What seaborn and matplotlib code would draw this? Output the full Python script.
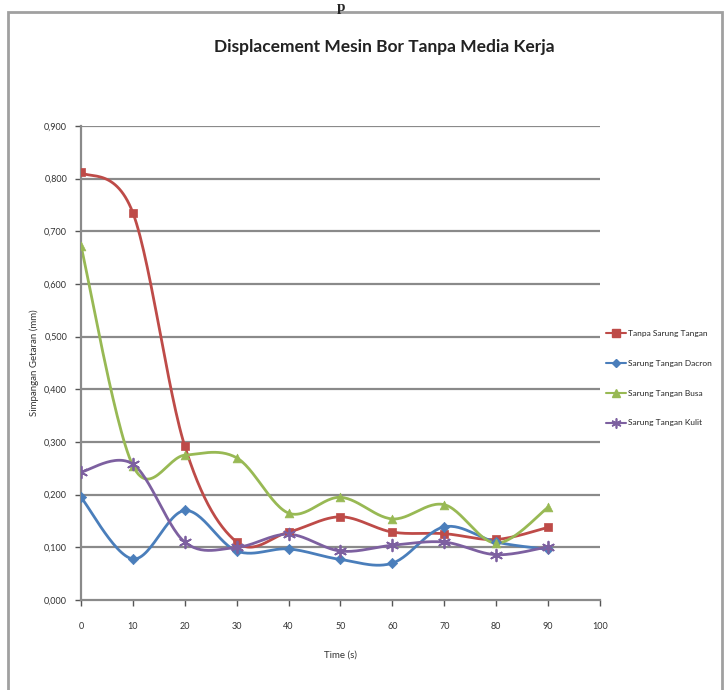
import numpy as np
import pandas as pd
import matplotlib
matplotlib.use("Agg")
import matplotlib.pyplot as plt
import seaborn as sns
from matplotlib.lines import Line2D
from matplotlib.patches import Rectangle

# data
time_s = [0, 10, 20, 30, 40, 50, 60, 70, 80, 90]
tanpa = [0.812, 0.735, 0.292, 0.110, 0.129, 0.158, 0.129, 0.126, 0.115, 0.138]
dacron = [0.195, 0.078, 0.170, 0.093, 0.097, 0.077, 0.070, 0.139, 0.110, 0.096]
busa = [0.672, 0.255, 0.275, 0.270, 0.165, 0.195, 0.154, 0.181, 0.108, 0.176]
kulit = [0.243, 0.258, 0.110, 0.100, 0.125, 0.093, 0.104, 0.110, 0.086, 0.101]

names = ["Tanpa Sarung Tangan", "Sarung Tangan Dacron", "Sarung Tangan Busa", "Sarung Tangan Kulit"]
series = [tanpa, dacron, busa, kulit]
colors = ["#BE4B48", "#4A7EBB", "#98B954", "#7D60A0"]
markers = ["s", "D", "^", (6, 2, 0)]  # last one = asterisk like excel
msizes = [6, 5, 6, 8]

sns.set_style("white")
plt.rcParams["font.family"] = ["Lato", "DejaVu Sans"]


def smooth(x, y, n=30):
    # excel-like smoothed line (catmull-rom through the points)
    x = np.asarray(x, float)
    y = np.asarray(y, float)
    px = np.concatenate([[x[0]], x, [x[-1]]])
    py = np.concatenate([[y[0]], y, [y[-1]]])
    xs, ys = [], []
    t = np.linspace(0, 1, n)
    for i in range(1, len(px) - 2):
        p0, p1, p2, p3 = px[i - 1], px[i], px[i + 1], px[i + 2]
        q0, q1, q2, q3 = py[i - 1], py[i], py[i + 1], py[i + 2]
        for a, b, c, d, out in ((p0, p1, p2, p3, xs), (q0, q1, q2, q3, ys)):
            out.extend(0.5 * (2 * b + (-a + c) * t + (2 * a - 5 * b + 4 * c - d) * t ** 2
                              + (-a + 3 * b - 3 * c + d) * t ** 3))
    return np.array(xs), np.array(ys)


rows = []
for name, vals in zip(names, series):
    sx, sy = smooth(time_s, vals)
    rows.append(pd.DataFrame({"t": sx, "v": sy, "seri": name}))
curves = pd.concat(rows, ignore_index=True)
points = pd.DataFrame({"t": time_s * 4,
                       "v": sum(series, []),
                       "seri": sum([[n] * len(time_s) for n in names], [])})

fig = plt.figure(figsize=(7.26, 6.9), dpi=100)
ax = fig.add_axes([0.1116, 0.1304, 0.7148, 0.687])

# grid
for g in np.arange(0.1, 0.91, 0.1):
    ax.axhline(g, color="#8a8a8a", lw=1.6, zorder=0)

pal = dict(zip(names, colors))
sns.lineplot(data=curves, x="t", y="v", hue="seri", estimator=None, sort=False,
             palette=pal, lw=2, legend=False, ax=ax, zorder=2)
for name, c, m, ms in zip(names, colors, markers, msizes):
    sub = points[points["seri"] == name]
    sns.scatterplot(data=sub, x="t", y="v", color=c, marker=m, s=ms ** 2 * 1.1,
                    edgecolor=c, linewidth=0.5 if not isinstance(m, tuple) else 1.3,
                    ax=ax, zorder=3, legend=False)

ax.set_xlim(0, 100)
ax.set_ylim(0, 0.9)
ax.set_xticks(range(0, 101, 10))
ax.set_yticks(np.arange(0, 0.91, 0.1))
ax.set_yticklabels([f"{v:.3f}".replace(".", ",") for v in np.arange(0, 0.91, 0.1)])
ax.tick_params(axis="both", labelsize=6.5, colors="#555555", length=4, direction="out",
               bottom=True, left=True, width=1)
for lab in ax.get_xticklabels() + ax.get_yticklabels():
    lab.set_color("#333333")
for s in ["top", "right"]:
    ax.spines[s].set_visible(False)
for s in ["left", "bottom"]:
    ax.spines[s].set_color("#8a8a8a")
    ax.spines[s].set_linewidth(1.6)
ax.tick_params(axis="x", pad=12)
ax.tick_params(axis="y", pad=6)

ax.set_xlabel("Time (s)", fontsize=7, color="#333333", labelpad=14)
ax.set_ylabel("Simpangan Getaran (mm)", fontsize=7, color="#333333", labelpad=4)

fig.text(0.53, 0.932, "Displacement Mesin Bor Tanpa Media Kerja", ha="center", va="center",
         fontsize=12.5, fontweight="bold", color="#222222")

handles = [Line2D([0], [0], color=c, marker=m, markersize=ms * 0.9, lw=1.5,
                  markeredgecolor=c, markeredgewidth=1.2 if isinstance(m, tuple) else 1)
           for c, m, ms in zip(colors, markers, msizes)]
fig.legend(handles, names, loc="center left", bbox_to_anchor=(0.83, 0.452),
           frameon=False, fontsize=6, handlelength=2.4, labelspacing=2.75,
           handletextpad=0.3, borderaxespad=0)

# chart border
fig.patches.append(Rectangle((0.011, -0.02), 0.983, 1.003, transform=fig.transFigure,
                             fill=False, edgecolor="#a0a0a0", lw=2))
fig.text(0.47, 0.999, "p", ha="center", va="top", fontsize=11, fontweight="bold",
         family="Liberation Serif")

fig.savefig("out.png", dpi=100)
